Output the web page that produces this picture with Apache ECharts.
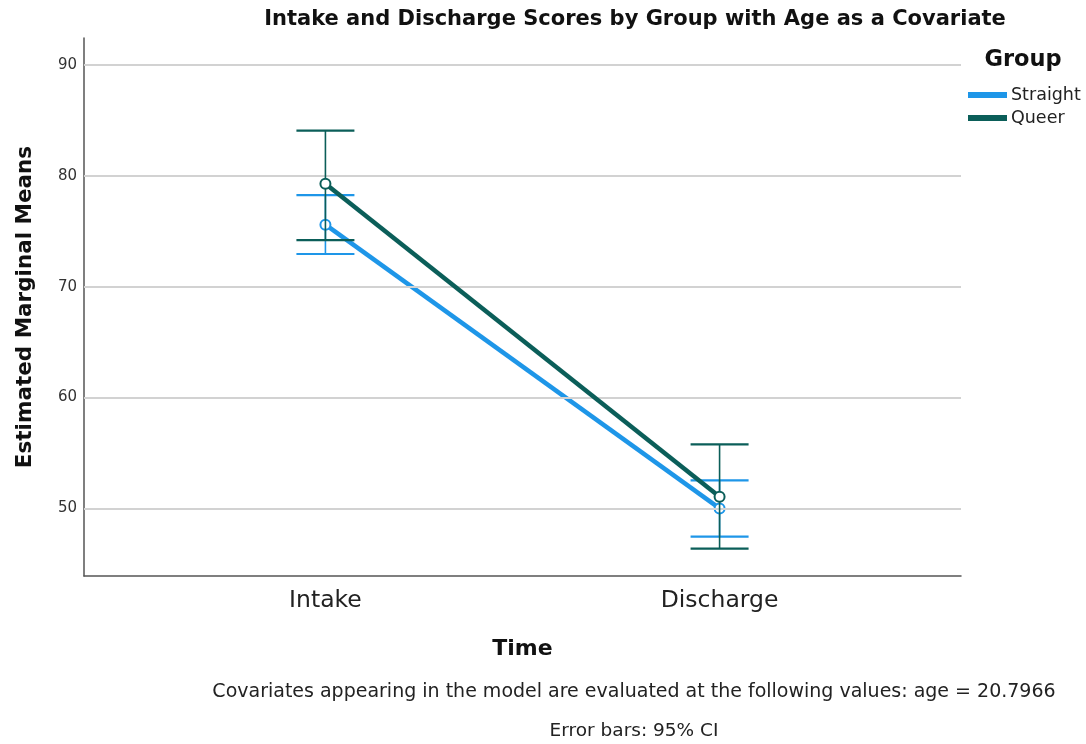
<!DOCTYPE html>
<html><head><meta charset="utf-8">
<script src="https://cdn.jsdelivr.net/npm/echarts@6/dist/echarts.min.js"></script>
<style>html,body{margin:0;padding:0;background:#fff}#c{width:1086px;height:744px}</style>
</head><body><div id="c"></div>
<script>
const categories = ['Intake', 'Discharge'];
const groups = ['Straight', 'Queer'];
const straightMeans = [75.6, 50.0];
const straightLower = [72.95, 47.45];
const straightUpper = [78.26, 52.52];
const queerMeans = [79.28, 51.05];
const queerLower = [74.2, 46.37];
const queerUpper = [84.08, 55.77];
const yTicks = [50, 60, 70, 80, 90];

const FONT = 'DejaVu Sans';
const colors = { Straight: '#1e96e8', Queer: '#0b5e59' };

function pts(vals) { return vals.map((v, i) => [i + 1, v]); }
function ci(lo, hi) { return lo.map((v, i) => [i + 1, v, hi[i]]); }

function errorBar(color) {
  return function (params, api) {
    const x = api.value(0), lo = api.value(1), hi = api.value(2);
    const a = api.coord([x, lo]), b = api.coord([x, hi]);
    const hw = 29;
    return {
      type: 'group',
      children: [
        { type: 'line', shape: { x1: a[0], y1: a[1], x2: b[0], y2: b[1] }, style: { stroke: color, lineWidth: 1.6 } },
        { type: 'line', shape: { x1: a[0] - hw, y1: a[1], x2: a[0] + hw, y2: a[1] }, style: { stroke: color, lineWidth: 2.2 } },
        { type: 'line', shape: { x1: b[0] - hw, y1: b[1], x2: b[0] + hw, y2: b[1] }, style: { stroke: color, lineWidth: 2.2 } }
      ]
    };
  };
}

const chart = echarts.init(document.getElementById('c'), null, { renderer: 'canvas' });
chart.setOption({
  animation: false,
  backgroundColor: '#fff',
  textStyle: { fontFamily: FONT },
  grid: { left: 84, right: 125, top: 38, bottom: 168 },
  legend: {
    data: groups,
    orient: 'vertical',
    left: 963,
    top: 81,
    icon: 'rect',
    itemWidth: 37,
    itemHeight: 4,
    itemGap: 5,
    textStyle: { fontSize: 17.5, color: '#222', fontFamily: FONT }
  },
  xAxis: {
    type: 'value',
    min: 0.3875,
    max: 2.6125,
    axisLine: { show: true, lineStyle: { color: '#555', width: 1.5 } },
    axisTick: { show: false },
    splitLine: { show: false },
    axisLabel: {
      customValues: [1, 2],
      formatter: v => categories[Math.round(v) - 1] || '',
      fontSize: 23.5, color: '#222', margin: 13, fontFamily: FONT
    },
    name: 'Time',
    nameLocation: 'middle',
    nameGap: 62,
    nameTextStyle: { fontSize: 22, fontWeight: 'bold', color: '#111', fontFamily: FONT }
  },
  yAxis: {
    type: 'value',
    min: 43.9,
    max: 92.44,
    axisLine: { show: true, lineStyle: { color: '#555', width: 1.5 } },
    axisTick: { show: false },
    splitLine: { show: false },
    axisLabel: { customValues: yTicks, fontSize: 15, color: '#333', margin: 7, fontFamily: FONT },
    name: 'Estimated Marginal Means',
    nameLocation: 'middle',
    nameGap: 48,
    nameTextStyle: { fontSize: 21.5, fontWeight: 'bold', color: '#111', fontFamily: FONT }
  },
  series: [
    {
      type: 'line', name: 'grid', data: [], z: 0, silent: true,
      markLine: {
        silent: true, symbol: 'none', label: { show: false },
        lineStyle: { color: '#d2d2d2', width: 2, type: 'solid' },
        data: yTicks.map(v => ({ yAxis: v }))
      }
    },
    {
      type: 'custom', name: 'Straight CI', data: ci(straightLower, straightUpper), z: 3,
      renderItem: errorBar(colors.Straight), silent: true
    },
    {
      type: 'line', name: 'Straight', data: pts(straightMeans), z: 4,
      color: colors.Straight,
      lineStyle: { color: colors.Straight, width: 4.5 },
      symbol: 'emptyCircle', symbolSize: 10,
      itemStyle: { color: colors.Straight, borderColor: colors.Straight, borderWidth: 1.5 }
    },
    {
      type: 'custom', name: 'Queer CI', data: ci(queerLower, queerUpper), z: 5,
      renderItem: errorBar(colors.Queer), silent: true
    },
    {
      type: 'line', name: 'Queer', data: pts(queerMeans), z: 6,
      color: colors.Queer,
      lineStyle: { color: colors.Queer, width: 4.5 },
      symbol: 'emptyCircle', symbolSize: 10,
      itemStyle: { color: colors.Queer, borderColor: colors.Queer, borderWidth: 1.5 }
    }
  ],
  graphic: [
    { type: 'text', x: 635, y: 20, style: { text: 'Intake and Discharge Scores by Group with Age as a Covariate', font: 'bold 21px "DejaVu Sans"', fill: '#111', textAlign: 'center', textVerticalAlign: 'middle' } },
    { type: 'text', x: 1023, y: 60, style: { text: 'Group', font: 'bold 22.5px "DejaVu Sans"', fill: '#111', textAlign: 'center', textVerticalAlign: 'middle' } },
    { type: 'text', x: 634, y: 692, style: { text: 'Covariates appearing in the model are evaluated at the following values: age = 20.7966', font: '19px "DejaVu Sans"', fill: '#222', textAlign: 'center', textVerticalAlign: 'middle' } },
    { type: 'text', x: 634, y: 731, style: { text: 'Error bars: 95% CI', font: '18.5px "DejaVu Sans"', fill: '#222', textAlign: 'center', textVerticalAlign: 'middle' } }
  ]
});
</script>
</body></html>
